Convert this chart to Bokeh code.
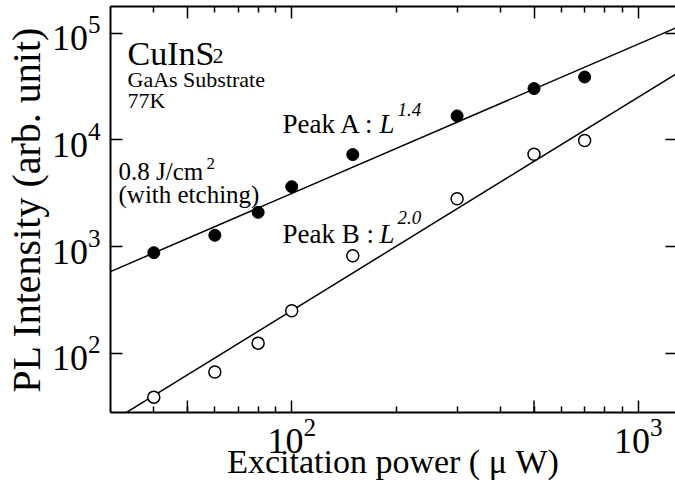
import math

from bokeh.embed import file_html
from bokeh.models import FixedTicker, Label, LogAxis, Range1d
from bokeh.plotting import figure
from bokeh.resources import INLINE

# Excitation power (uW) and PL intensities of the two emission peaks
power_uw = [40, 60, 80, 100, 150, 300, 500, 700]
peak_a = [880, 1280, 2100, 3650, 7300, 16800, 30300, 38900]
peak_b = [39, 67, 125, 251, 824, 2820, 7340, 9900]

# Power-law fits  I = C * L^n
fit_a_exp, fit_a_coef = 1.4, 5.0
fit_b_exp, fit_b_coef = 2.0, 0.0252

# Axis ticks
x_decades = [100, 1000]
x_mid = [50, 500]
x_minor = [40, 60, 70, 80, 90, 200, 300, 400, 600, 700, 800, 900]
y_major = [1e2, 1e3, 1e4, 1e5]

X_LO, X_HI = 30, 1280
Y_LO, Y_HI = 28, 1.78e5

SERIF = "Liberation Serif"
W, H = 675, 492
F_LEFT, F_RIGHT, F_TOP, F_BOTTOM = 110, 675, 6, 412
TICK_LONG, TICK_SHORT = 12, 6

p = figure(
    width=W, height=H,
    x_axis_type="log", y_axis_type="log",
    x_range=Range1d(X_LO, X_HI), y_range=Range1d(Y_LO, Y_HI),
    output_backend="svg", toolbar_location=None,
    min_border_left=F_LEFT, min_border_right=W - F_RIGHT,
    min_border_top=F_TOP, min_border_bottom=H - F_BOTTOM,
    outline_line_color=None,
    background_fill_color="white", border_fill_color="white",
)
p.grid.visible = False


def style_axis(ax, tick_in, minor_in):
    ax.axis_line_width = 2
    ax.axis_line_color = "black"
    ax.major_tick_in = tick_in
    ax.major_tick_out = 0
    ax.minor_tick_in = minor_in
    ax.minor_tick_out = 0
    ax.major_tick_line_width = 1.5
    ax.minor_tick_line_width = 1.5
    ax.major_tick_line_color = "black"
    ax.minor_tick_line_color = "black" if minor_in else None
    ax.major_label_text_font = SERIF
    ax.major_label_text_font_size = "36px"
    ax.major_label_text_color = "black"
    ax.axis_label_text_font = SERIF
    ax.axis_label_text_font_style = "normal"
    ax.axis_label_text_color = "black"


xa = p.xaxis[0]
xa.ticker = FixedTicker(ticks=x_decades, minor_ticks=x_minor + x_mid)
style_axis(xa, TICK_LONG, TICK_SHORT)
xa.major_label_standoff = 6
xa.axis_label = "Excitation power ( μ W)"
xa.axis_label_text_font_size = "34px"
xa.axis_label_standoff = -13

ya = p.yaxis[0]
ya.ticker = FixedTicker(ticks=y_major, minor_ticks=[])
style_axis(ya, TICK_LONG, 0)
ya.major_label_standoff = 10
ya.axis_label = "PL Intensity (arb. unit)"
ya.axis_label_text_font_size = "40px"
ya.axis_label_standoff = 0

# Mirrored tick marks on the top and right edges, without labels
top_ticks = x_mid + x_decades
top = LogAxis(ticker=FixedTicker(ticks=top_ticks, minor_ticks=x_minor),
              major_label_overrides={t: "" for t in top_ticks})
style_axis(top, TICK_LONG, TICK_SHORT)
top.major_label_text_font_size = "0px"
top.major_label_standoff = 0
p.add_layout(top, "above")

right = LogAxis(ticker=FixedTicker(ticks=y_major, minor_ticks=[]),
                major_label_overrides={t: "" for t in y_major})
style_axis(right, 10, 0)
right.axis_line_color = None
right.major_label_text_font_size = "0px"
right.major_label_standoff = 0
p.add_layout(right, "right")


def at(px, py):
    """Canvas pixel position -> data coordinates on the log axes."""
    lx = math.log10(X_LO) + (px - F_LEFT) / (F_RIGHT - F_LEFT) * (math.log10(X_HI) - math.log10(X_LO))
    ly = math.log10(Y_HI) - (py - F_TOP) / (F_BOTTOM - F_TOP) * (math.log10(Y_HI) - math.log10(Y_LO))
    return 10 ** lx, 10 ** ly


# Longer ticks at 50 and 500 on the bottom edge
tick_top = at(0, F_BOTTOM - TICK_LONG)[1]
p.segment(x0=x_mid, y0=[Y_LO] * len(x_mid), x1=x_mid, y1=[tick_top] * len(x_mid),
          line_color="black", line_width=1.5)

# Fit lines across the full power range
fit_x = [X_LO, X_HI]
p.line(fit_x, [fit_a_coef * x ** fit_a_exp for x in fit_x], line_color="black", line_width=1.5)
p.line(fit_x, [fit_b_coef * x ** fit_b_exp for x in fit_x], line_color="black", line_width=1.5)

# Measured points
p.scatter(power_uw, peak_a, size=12, fill_color="black", line_color="black", line_width=1)
p.scatter(power_uw, peak_b, size=12, fill_color="white", line_color="black", line_width=1.5)


def note(px, py, text, size, style="normal"):
    x, y = at(px, py)
    p.add_layout(Label(x=x, y=y, text=text, text_font=SERIF,
                       text_font_size=f"{size}px", text_font_style=style,
                       text_color="black", text_align="left",
                       text_baseline="alphabetic"))


note(127, 53, "CuInS", 34)
note(212, 55, "2", 22)
note(127, 79, "GaAs Substrate", 22)
note(127, 100, "77K", 22)
note(118, 171, "0.8 J/cm", 25)
note(206, 163, "2", 17)
note(118, 194, "(with etching)", 25)

note(282, 123, "Peak A :", 27)
note(379, 123, "L", 27, "italic")
note(397, 109, "1.4", 19, "italic")
note(282, 233, "Peak B :", 27)
note(379, 233, "L", 27, "italic")
note(397, 217, "2.0", 19, "italic")

open("out.html", "w").write(file_html(p, INLINE))
